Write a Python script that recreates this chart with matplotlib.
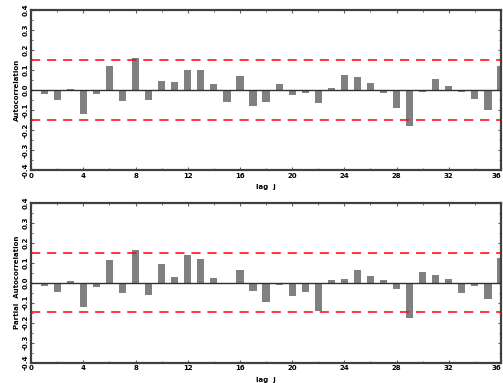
import numpy as np
import matplotlib
matplotlib.use("Agg")
import matplotlib.pyplot as plt
from matplotlib.ticker import MultipleLocator

# ラグと自己相関・偏自己相関の値
lags = list(range(1, 37))
acf = [-0.018, -0.048, 0.007, -0.120, -0.022, 0.122, -0.053, 0.160, -0.050, 0.045,
       0.040, 0.102, 0.098, 0.030, -0.062, 0.070, -0.078, -0.058, 0.030, -0.027,
       -0.013, -0.063, 0.010, 0.075, 0.067, 0.033, -0.013, -0.088, -0.178, -0.008,
       0.053, 0.020, -0.010, -0.045, -0.100, 0.122]
pacf = [-0.017, -0.045, 0.008, -0.120, -0.022, 0.113, -0.050, 0.163, -0.060, 0.093,
        0.030, 0.138, 0.120, 0.023, -0.008, 0.062, -0.040, -0.095, -0.010, -0.065,
        -0.048, -0.140, 0.012, 0.018, 0.063, 0.033, 0.013, -0.030, -0.178, 0.053,
        0.040, 0.018, -0.050, -0.015, -0.080, 0.122]
bound = 0.148
ylabels = ["Autocorrelation", "Partial  Autocorrelation"]
xticks = list(range(0, 37, 4))
yticks = np.arange(-0.4, 0.41, 0.1)

fig = plt.figure(figsize=(5.03, 3.83), dpi=100)
rects = [[0.062, 0.556, 0.934, 0.418], [0.062, 0.053, 0.934, 0.418]]

for rect, vals, lab in zip(rects, [acf, pacf], ylabels):
    ax = fig.add_axes(rect)
    ax.bar(lags, vals, width=0.55, color="#808080", zorder=2)
    ax.axhline(0, color="#303030", lw=1.0, zorder=3)
    ax.axhline(bound, color="red", lw=1.1, dashes=(6, 4.5), zorder=3)
    ax.axhline(-bound, color="red", lw=1.1, dashes=(6, 4.5), zorder=3)
    ax.set_xlim(0, 36)
    ax.set_ylim(-0.4, 0.4)
    ax.set_xticks(xticks)
    ax.xaxis.set_minor_locator(MultipleLocator(2))
    ax.yaxis.set_minor_locator(MultipleLocator(0.05))
    ax.set_yticks(yticks)
    ax.set_yticklabels(["%.1f" % v if abs(v) > 1e-9 else "0.0" for v in yticks],
                       rotation=90, va="center")
    ax.tick_params(which="both", direction="in", labelsize=5, pad=2,
                   top=True, right=True, color="#606060")
    ax.tick_params(which="major", length=2.5)
    ax.tick_params(which="minor", length=1.5)
    for t in ax.get_xticklabels() + ax.get_yticklabels():
        t.set_fontweight("bold")
    # 右端のラベルは画像内に収める
    ax.get_xticklabels()[-1].set_horizontalalignment("right")
    for s in ax.spines.values():
        s.set_linewidth(1.6)
        s.set_color("#404040")
    ax.set_xlabel("lag  j", fontsize=5, fontweight="bold", labelpad=4)
    ax.set_ylabel(lab, fontsize=5, fontweight="bold", labelpad=2)

fig.savefig("out.png", dpi=100)
